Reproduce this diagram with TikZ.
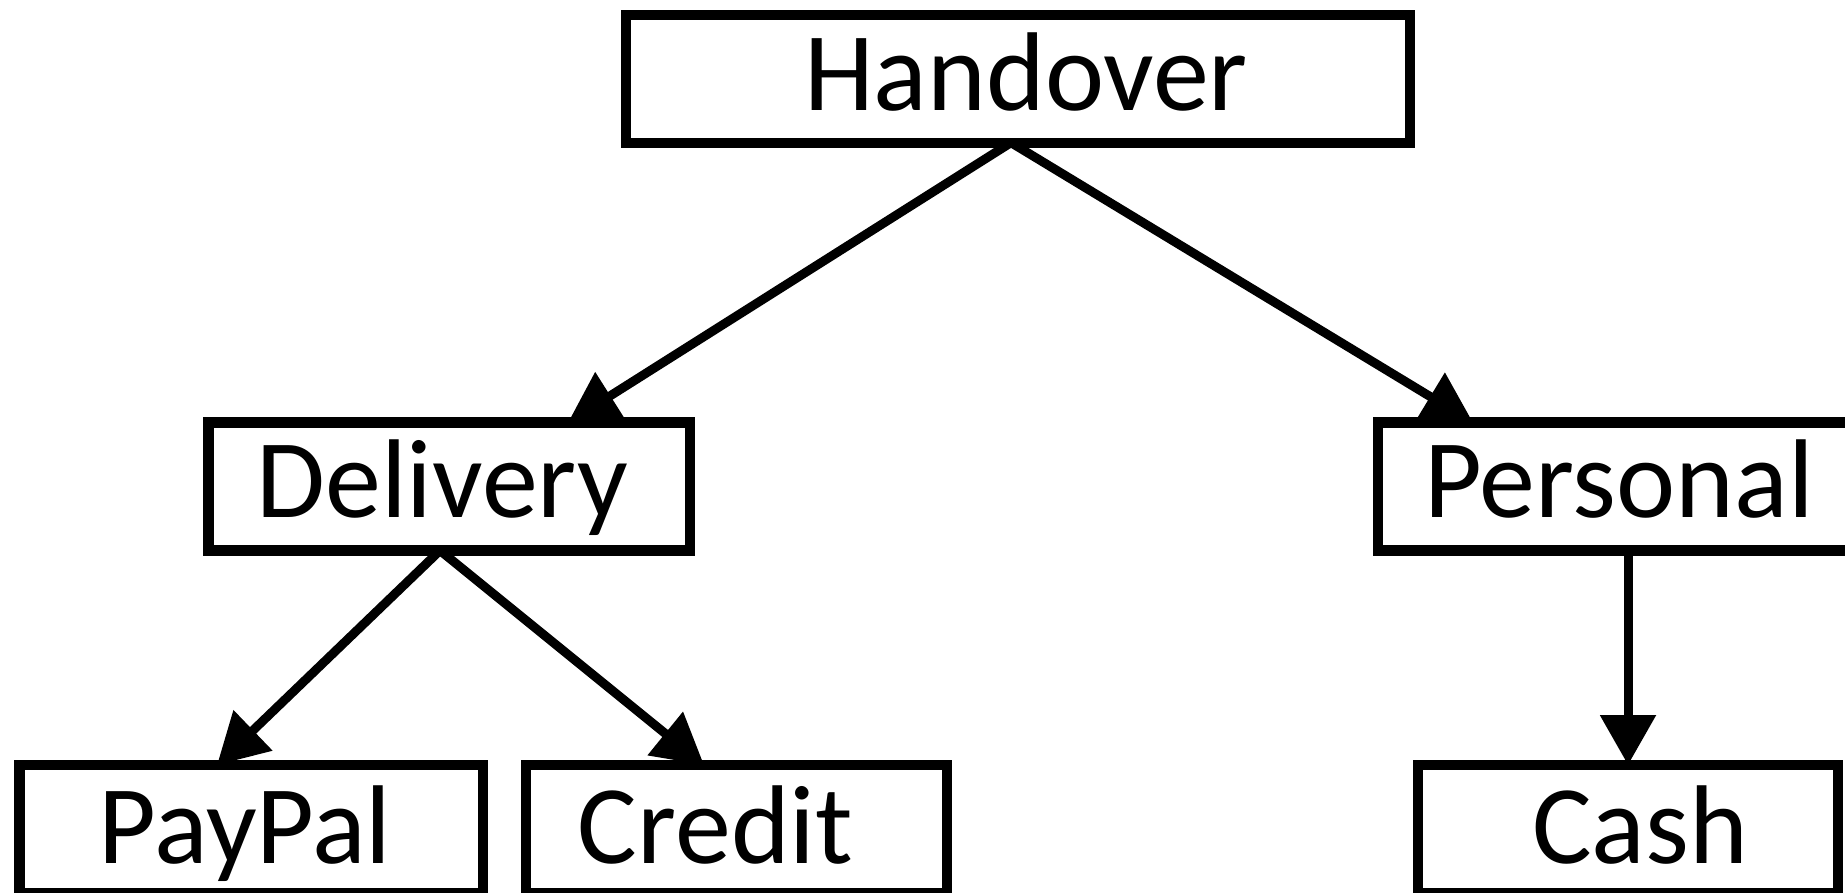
\documentclass[tikz,border=0pt]{standalone}
\usepackage{fontspec}
\setmainfont{Carlito}
\usetikzlibrary{arrows.meta,calc}

\begin{document}
\begin{tikzpicture}[
  x=0.5pt, y=-0.5pt,
  box/.style={draw=black, line width=5.25pt, fill=white, inner sep=0pt,
    outer sep=0pt, minimum height=64pt},
  lbl/.style={anchor=base, inner sep=0pt, font=\fontsize{56pt}{60pt}\selectfont},
  arr/.style={line width=4.5pt, -{Triangle[length=25pt,width=27pt]}}
]
\useasboundingbox (0,0) rectangle (1845,893);
\clip (0,0) rectangle (1845,893);

% boxes of the tree
\node[box, minimum width=392pt]   (hand)   at (1018,79.25)  {};
\node[box, minimum width=240.75pt] (deliv) at (449.25,486.5) {};
\node[box, minimum width=250pt]   (pers)   at (1628,486.5)  {};
\node[box, minimum width=231.75pt] (paypal) at (251.25,829) {};
\node[box, minimum width=210.5pt] (credit) at (736.5,829)   {};
\node[box, minimum width=210pt]   (cash)   at (1628,829)    {};

% labels
\node[lbl] (hand-t)   at ($(hand.center)+(8,31)$)    {Handover};
\node[lbl] (deliv-t)  at ($(deliv.center)+(-7,31)$)  {Delivery};
\node[lbl] (pers-t)   at ($(pers.center)+(-9,31)$)   {Personal};
\node[lbl] (paypal-t) at ($(paypal.center)+(-6,34)$) {PayPal};
\node[lbl] (credit-t) at ($(credit.center)+(-21,34)$) {Credit};
\node[lbl] (cash-t)   at ($(cash.center)+(12,34)$)   {Cash};

% connectors
\draw[arr] ($(hand.south)+(-8,0)$)  -- ($(deliv.north)+(118.75,0)$);
\draw[arr] ($(hand.south)+(-6,0)$)  -- ($(pers.north)+(-155,0)$);
\draw[arr] ($(deliv.south)+(-9.25,0)$) -- ($(paypal.north)+(-34.25,0)$);
\draw[arr] ($(deliv.south)+(-9.25,0)$) -- ($(credit.north)+(-32.5,0)$);
\draw[arr] (pers.south) -- (cash.north);
\end{tikzpicture}
\end{document}
